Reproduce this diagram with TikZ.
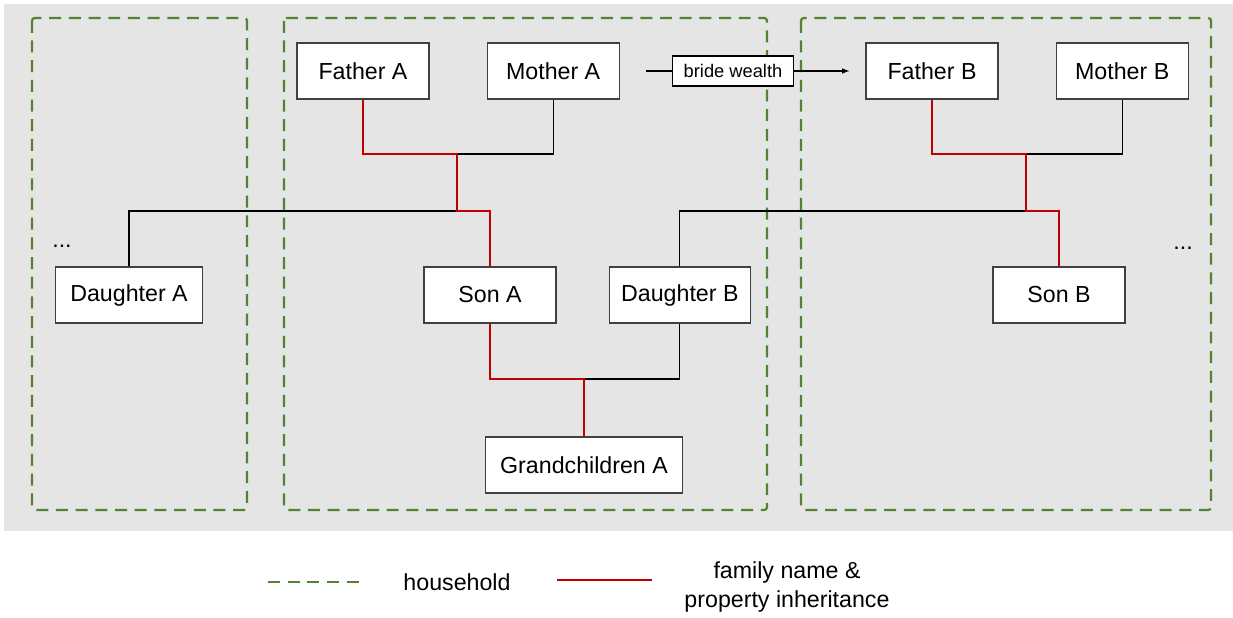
\documentclass[tikz,border=0pt]{standalone}
\usepackage{fontspec}
\setmainfont{Liberation Sans}
\usepackage{tikz}
\usetikzlibrary{arrows,positioning}
\definecolor{bggray}{HTML}{E5E5E5}
\definecolor{hhgreen}{HTML}{548235}
\definecolor{namered}{HTML}{C00000}
\definecolor{boxgray}{HTML}{404040}

\begin{document}
\begin{tikzpicture}[x=0.025cm, y=-0.025cm,
  every node/.style={font=\fontsize{16.5}{20.5}\selectfont},
  person/.style={draw=boxgray, line width=0.8pt, fill=white, minimum width=3.3cm, minimum height=1.4cm, inner xsep=0.375cm},
  household/.style={draw=hhgreen, line width=1.6pt, dash pattern=on 8.5pt off 5.5pt},
  kin/.style={draw=black, line width=0.9pt},
  inherit/.style={draw=namered, line width=1.8pt}]
  \useasboundingbox (0,0) rectangle (1233,617);
  \fill [bggray] (4,4) rectangle (1233,531);

  % households
  \draw [household, rounded corners=2pt] (32,18) rectangle (247,510);
  \draw [household, rounded corners=2pt] (284,18) rectangle (767,510);
  \draw [household, rounded corners=2pt] (801,18) rectangle (1211,510);

  % people
  \node [person] (fa) at (363,71) {Father A};
  \node [person, right=1.425cm of fa] (ma) {Mother A};
  \node [person] (fb) at (932,71) {Father B};
  \node [person, right=1.425cm of fb] (mb) {Mother B};
  \node [person] (da) at (129,295) {Daughter A};
  \node [person] (sa) at (490,295) {Son A};
  \node [person, inner xsep=0.3cm, right=1.3cm of sa] (db) {Daughter B};
  \node [person] (sb) at (1059,295) {Son B};
  \node [person] (ga) at (584,465) {Grandchildren A};
  \node [draw=black, line width=0.8pt, fill=white, minimum height=0.75cm, inner xsep=0.275cm,
         font=\fontsize{13}{15}\selectfont] (bw) at (733,71) {bride wealth};
  \node (dotsl) at (62,246) {...};
  \node (dotsr) at (1183,248) {...};

  % junctions
  \coordinate (ja) at (457,154);
  \coordinate (jb) at (457,211);
  \coordinate (jc) at (1026,154);
  \coordinate (jd) at (1026,211);
  \coordinate (je) at (584,379);

  % plain ties
  \draw [kin] (ma.south) |- (ja);
  \draw [kin] (jb) -| (da.north);
  \draw [kin] (mb.south) |- (jc);
  \draw [kin] (db.north) |- (jd) -| (sb.north);
  \draw [kin] (db.south) |- (je);
  \draw [kin, line width=0.8pt, shorten <=0.65cm] (ma) -- (bw);
  \draw [kin, line width=0.8pt, -latex, shorten >=0.4cm] (bw) -- (fb);

  % name and property
  \draw [inherit] (fa.south) |- (ja) -- (jb) -| (sa.north);
  \draw [inherit] (fb.south) |- (jc) -- (jd) -| (sb.north);
  \draw [inherit] (sa.south) |- (je) -- (ga.north);

  % legend
  \draw [household] (268,582) -- (362,582);
  \node (hhkey) at (457,582) {household};
  \draw [inherit] (557,580) -- (652,580);
  \node [align=center] (inkey) at (787,587) {family name \&\\property inheritance};
\end{tikzpicture}
\end{document}
